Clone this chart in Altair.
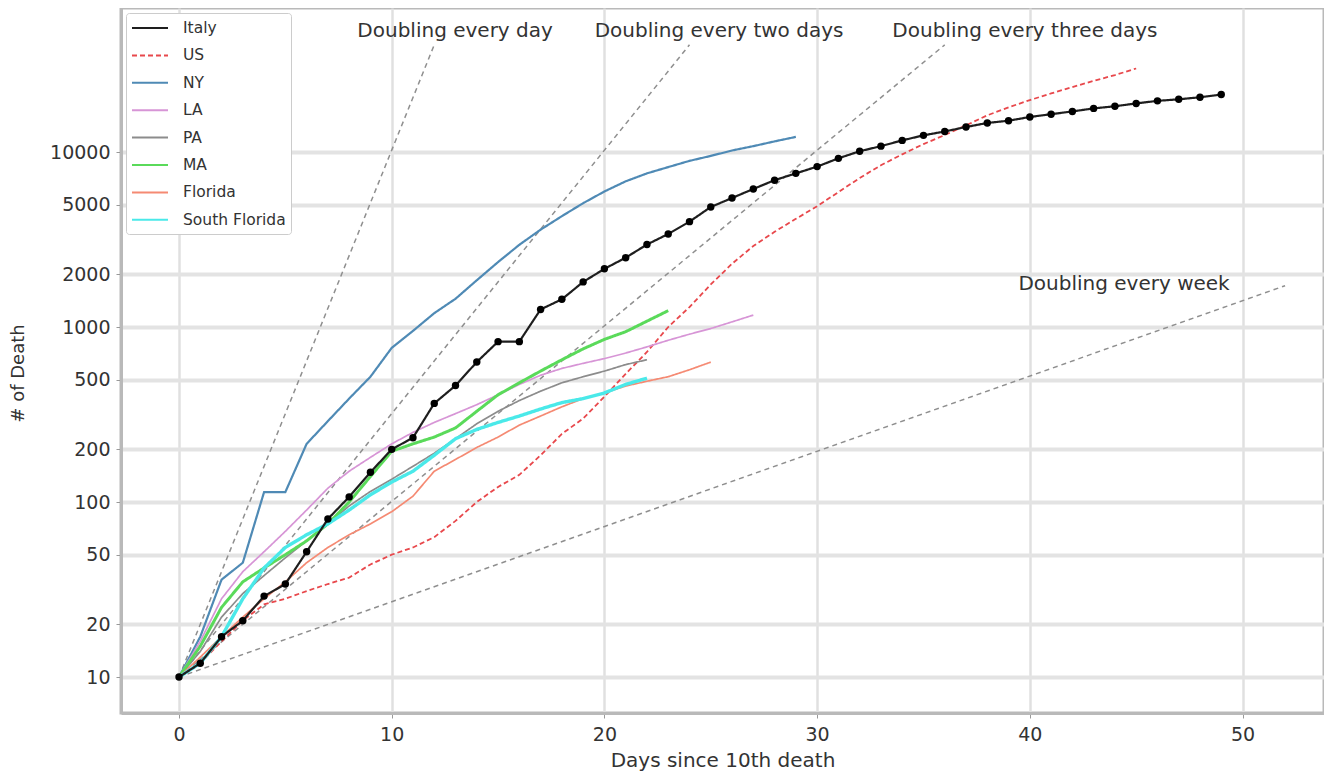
import altair as alt
import pandas as pd

# ---------------- data ----------------
series_names = ["Italy", "US", "NY", "LA", "PA", "MA", "Florida", "South Florida"]

italy = [10, 12, 17, 21, 29, 34, 52, 80, 107, 148, 200, 233, 366, 463, 631, 825, 825,
         1260, 1440, 1810, 2150, 2490, 2960, 3400, 4000, 4850, 5460, 6150, 6900, 7550,
         8250, 9200, 10100, 10800, 11650, 12450, 13100, 13900, 14650, 15100, 15850,
         16450, 17050, 17750, 18250, 18950, 19600, 20000, 20550, 21300]
us = [10, 12, 16, 21, 26, 28, 31, 34, 37, 44, 50, 55, 63, 78, 100, 122, 143, 185, 245,
      300, 400, 540, 720, 1000, 1300, 1750, 2300, 2900, 3500, 4150, 4900, 5900, 7100,
      8400, 9700, 11100, 12500, 14200, 16200, 18000, 19800, 21600, 23500, 25500, 27500, 30000]
ny = [10, 17, 36, 45, 114, 114, 215, 290, 390, 520, 760, 950, 1200, 1450, 1850, 2350,
      2950, 3600, 4300, 5100, 5950, 6800, 7550, 8200, 8900, 9500, 10200, 10800, 11500, 12200]
la = [10, 16, 28, 40, 52, 68, 90, 120, 150, 180, 215, 250, 285, 320, 360, 410, 470, 530,
      580, 620, 660, 710, 770, 840, 910, 980, 1070, 1170]
pa = [10, 14, 22, 30, 38, 48, 60, 75, 95, 115, 135, 160, 190, 230, 280, 330, 380, 430,
      480, 520, 560, 610, 650]
ma = [10, 15, 25, 35, 42, 50, 60, 75, 100, 140, 195, 215, 235, 265, 330, 410, 480, 560,
      650, 750, 850, 940, 1080, 1240]
florida = [10, 13, 17, 22, 28, 35, 45, 55, 65, 75, 88, 108, 150, 175, 205, 235, 275, 310,
           350, 390, 420, 460, 490, 520, 570, 630]
south_florida = [10, 12, 17, 28, 42, 55, 65, 75, 90, 110, 130, 150, 185, 230, 260, 285,
                 310, 340, 370, 390, 420, 470, 510]

series_values = [italy, us, ny, la, pa, ma, florida, south_florida]
series_colors = ["#1e1e1e", "#e8484c", "#4f8ab5", "#d795d6", "#8c8c8c", "#5ada5a",
                 "#f58a73", "#4ae9e9"]
series_dash = [[1, 0], [5, 3], [1, 0], [1, 0], [1, 0], [1, 0], [1, 0], [1, 0]]
series_width = [2.2, 1.8, 2.2, 1.7, 1.7, 3.0, 1.7, 3.4]

# doubling reference lines (two end points each)
dbl_names = ["Doubling every day", "Doubling every two days",
             "Doubling every three days", "Doubling every week"]
dbl_start_day = [0, 0, 0, 0]
dbl_start_val = [10, 10, 10, 10]
dbl_end_day = [12, 24, 36, 52]
dbl_end_val = [40960, 40960, 40960, 1722]
dbl_text_day = [12.98, 25.39, 39.77, 44.43]
dbl_text_val = [49100, 49100, 49100, 1762]

y_ticks = [10, 20, 50, 100, 200, 500, 1000, 2000, 5000, 10000]
x_ticks = [0, 10, 20, 30, 40, 50]

# ---------------- tables ----------------
rows = []
for name, vals in zip(series_names, series_values):
    for d, v in enumerate(vals):
        rows.append({"series": name, "day": d, "deaths": v})
df = pd.DataFrame(rows)
df_italy = df[df.series == "Italy"]

dbl_rows = []
for n, sd, sv, ed, ev in zip(dbl_names, dbl_start_day, dbl_start_val, dbl_end_day, dbl_end_val):
    dbl_rows.append({"label": n, "day": sd, "deaths": sv})
    dbl_rows.append({"label": n, "day": ed, "deaths": ev})
df_dbl = pd.DataFrame(dbl_rows)
df_txt = pd.DataFrame({"label": dbl_names, "day": dbl_text_day, "deaths": dbl_text_val})

FONT = "DejaVu Sans"
xscale = alt.Scale(domain=[-2.727, 53.83], nice=False, zero=False)
yscale = alt.Scale(type="log", domain=[6.23, 66500], nice=False)

xenc = alt.X("day:Q", scale=xscale,
             axis=alt.Axis(values=x_ticks, title="Days since 10th death", format="d",
                           gridWidth=2.5, gridColor="#e0e0e0", titleFontSize=20,
                           titleY=47, titleBaseline="middle"))
yenc = alt.Y("deaths:Q", scale=yscale,
             axis=alt.Axis(values=y_ticks, title="# of Death", format="d",
                           gridWidth=4, gridColor="#e3e3e3",
                           titleX=-103, titleY=365, titleBaseline="middle",
                           titleAlign="center", titleAngle=270))

LEG_SYMBOL = "M-1,0H3"
leg = alt.Legend(title=None, symbolType=LEG_SYMBOL, symbolSize=324, symbolStrokeWidth=2,
                 rowPadding=8.4, labelOffset=32, padding=5)
color_scale = alt.Scale(domain=series_names, range=series_colors)
dash_scale = alt.Scale(domain=series_names, range=series_dash)

dbl = alt.Chart(df_dbl).mark_line(color="#8f8f8f", strokeDash=[5, 4], strokeWidth=1.5).encode(
    x=xenc, y=yenc, detail="label:N")

layers = [dbl]
for name, w in zip(series_names, series_width):
    if name == "Italy":
        continue
    layers.append(
        alt.Chart(df[df.series == name]).mark_line(strokeWidth=w).encode(
            x="day:Q", y="deaths:Q",
            color=alt.Color("series:N", scale=color_scale, legend=leg),
            strokeDash=alt.StrokeDash("series:N", scale=dash_scale, legend=leg),
            order=alt.Order("day:Q"),
        )
    )

italy_line = alt.Chart(df_italy).mark_line(strokeWidth=2.2).encode(
    x="day:Q", y="deaths:Q",
    color=alt.Color("series:N", scale=color_scale, legend=leg),
    strokeDash=alt.StrokeDash("series:N", scale=dash_scale, legend=leg),
    order=alt.Order("day:Q"))
pts = alt.Chart(df_italy).mark_circle(color="black", size=55, opacity=1).encode(
    x="day:Q", y="deaths:Q")

txt = alt.Chart(df_txt).mark_text(font=FONT, fontSize=20, color="#333333",
                                  align="center", baseline="middle").encode(
    x="day:Q", y="deaths:Q", text="label:N")

layers += [italy_line, pts, txt]

chart = alt.layer(*layers).properties(
    width=1203, height=705,
    autosize=alt.AutoSizeParams(type="none"),
    padding={"left": 113, "top": 0, "right": 0, "bottom": 64},
).configure_view(
    stroke="#b9b9b9", strokeWidth=3
).configure_axis(
    labelFont=FONT, titleFont=FONT, labelFontSize=19, titleFontSize=18,
    titleFontWeight="normal", labelColor="#333333", titleColor="#333333",
    domainColor="#b9b9b9", domainWidth=3, tickColor="#999999", tickSize=5,
    labelPadding=6,
).configure_axisX(labelPadding=7).configure_legend(
    orient="top-left", offset=5, strokeColor="#cccccc",
    fillColor="#ffffff", cornerRadius=3, labelFont=FONT, labelFontSize=15.5,
    labelColor="#333333",
)

chart.save("out.html", embed_options={"renderer": "svg", "actions": False})
